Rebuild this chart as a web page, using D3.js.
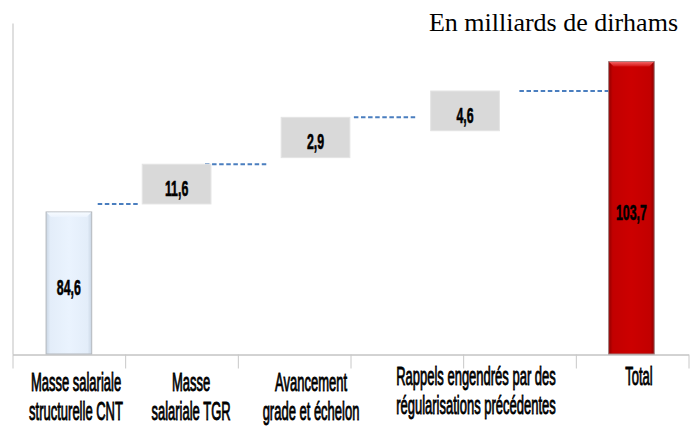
<!DOCTYPE html>
<html>
<head>
<meta charset="utf-8">
<script src="https://cdn.jsdelivr.net/npm/d3@7"></script>
<style>
  html, body { margin: 0; padding: 0; background: #ffffff; }
  svg { display: block; }
</style>
</head>
<body>
<div id="chart"></div>
<script>
// ---------------- DATA ----------------
const categories = [
  "Masse salariale structurelle CNT",
  "Masse salariale TGR",
  "Avancement grade et échelon",
  "Rappels engendrés par des régularisations précédentes",
  "Total"
];
const tickLabels = [
  ["Masse salariale", "structurelle CNT"],
  ["Masse", "salariale TGR"],
  ["Avancement", "grade et échelon"],
  ["Rappels engendrés par des", "régularisations précédentes"],
  ["Total"]
];
const values = [84.6, 11.6, 2.9, 4.6, 103.7];
const kinds = ["start", "step", "step", "step", "total"];
// The original chart is schematic (not to scale): plotted extents,
// in hidden value-axis units.
const plotLow  = [0, 54.4, 71.2, 80.95, 0];
const plotHigh = [51.5, 68.8, 85.8, 95.35, 106.0];
const unitTitle = "En milliards de dirhams";

// ---------------- LAYOUT ----------------
const W = 696, H = 427;
const plot = { left: 12, right: 688, top: 23, bottom: 354 };
const nSlots = 6;
const markSlot  = [0.505, 1.461, 2.694, 4.021, 5.498];
const labelSlot = [0.568, 1.589, 2.654, 4.118, 5.565];
const labelShift = [0, 0, 0, -6, -6];
const widthSlot = { start: 0.405, step: 0.61, total: 0.405 };
const connGap = [[6, 2], [-6, 13], [4, 13], [20, -1]];
const textSqueeze = 0.52;

const svg = d3.select("#chart").append("svg")
  .attr("width", W).attr("height", H);

const defs = svg.append("defs");
function hGrad(id, stops) {
  const g = defs.append("linearGradient").attr("id", id)
    .attr("x1", "0%").attr("x2", "100%").attr("y1", "0%").attr("y2", "0%");
  stops.forEach(s => g.append("stop").attr("offset", s[0]).attr("stop-color", s[1]));
}
function vGrad(id, stops) {
  const g = defs.append("linearGradient").attr("id", id)
    .attr("x1", "0%").attr("x2", "0%").attr("y1", "0%").attr("y2", "100%");
  stops.forEach(s => g.append("stop").attr("offset", s[0]).attr("stop-color", s[1]));
}
hGrad("blueFill", [["0%", "#c9d5e3"], ["9%", "#e3edf9"], ["50%", "#eaf3fe"], ["91%", "#e3edf9"], ["100%", "#c9d5e3"]]);
hGrad("redFill", [["0%", "#8f0000"], ["9%", "#c20000"], ["50%", "#cc0000"], ["91%", "#c20000"], ["100%", "#8f0000"]]);
vGrad("redTop", [["0%", "#f06060"], ["100%", "#d41010"]]);
vGrad("blueTop", [["0%", "#f7fbff"], ["100%", "#ebf3fd"]]);

// ---------------- SCALES ----------------
const y = d3.scaleLinear().domain([0, 120]).range([plot.bottom, plot.top]);
const xs = d3.scaleLinear().domain([0, nSlots]).range([plot.left, plot.right]);
const fmt = d3.formatLocale({ decimal: ",", thousands: " ", grouping: [3], currency: ["", ""] }).format(".1f");

// ---------------- AXES ----------------
const xAxis = d3.axisBottom(xs).tickValues(d3.range(nSlots + 1)).tickFormat("").tickSize(14).tickSizeOuter(0);
const gx = svg.append("g").attr("transform", `translate(0.5,${plot.bottom + 0.5})`).call(xAxis);
gx.select(".domain").attr("stroke", "#a6a6a6").attr("stroke-width", 1);
gx.selectAll(".tick line").attr("stroke", "#c8c8c8").attr("stroke-width", 1);

const yAxis = d3.axisLeft(y).tickValues([]).tickSizeOuter(0);
const gy = svg.append("g").attr("transform", `translate(${plot.left + 0.5},0)`).call(yAxis);
gy.select(".domain").attr("stroke", "#bfbfbf").attr("stroke-width", 1);

// ---------------- MARKS ----------------
const items = categories.map((c, i) => {
  const w = xs(widthSlot[kinds[i]]) - xs(0);
  const cx = xs(markSlot[i]);
  return { c, i, kind: kinds[i], v: values[i], x0: cx - w / 2, x1: cx + w / 2, cx,
           yTop: y(plotHigh[i]), yBot: y(plotLow[i]) };
});

// connectors
const conns = d3.range(items.length - 1).map(i => ({
  x1: items[i].x1 + connGap[i][0], x2: items[i + 1].x0 - connGap[i][1],
  level: i === 0 ? plotLow[1] : plotHigh[i]
}));
svg.append("g").selectAll("line").data(conns).join("line")
  .attr("x1", d => d.x1).attr("x2", d => d.x2)
  .attr("y1", d => y(d.level)).attr("y2", d => y(d.level))
  .attr("stroke", "#4a7ebf").attr("stroke-width", 2)
  .attr("stroke-dasharray", "4.5,2.6");

const gm = svg.append("g");
items.forEach(d => {
  const h = d.yBot - d.yTop, w = d.x1 - d.x0;
  if (d.kind === "step") {
    gm.append("rect").attr("x", d.x0).attr("y", d.yTop).attr("width", w).attr("height", h)
      .attr("fill", "#d9d9d9").attr("stroke", "#e4e4e4").attr("stroke-width", 1);
  } else {
    const isTotal = d.kind === "total";
    gm.append("rect").attr("x", d.x0).attr("y", d.yTop).attr("width", w).attr("height", h)
      .attr("fill", isTotal ? "url(#redFill)" : "url(#blueFill)")
      .attr("stroke", isTotal ? "#a08080" : "#b4b8bd").attr("stroke-width", 1);
    const b = 5;
    gm.append("path")
      .attr("d", `M${d.x0 + 0.5},${d.yTop + 0.5} L${d.x1 - 0.5},${d.yTop + 0.5} L${d.x1 - b},${d.yTop + b} L${d.x0 + b},${d.yTop + b} Z`)
      .attr("fill", isTotal ? "url(#redTop)" : "url(#blueTop)");
  }
  const mid = (d.yTop + d.yBot) / 2;
  gm.append("text")
    .attr("transform", `translate(${d.cx},${mid + 12}) scale(0.55,1)`)
    .attr("text-anchor", "middle")
    .attr("font-family", "'Liberation Sans', Arial, sans-serif")
    .attr("font-weight", "bold")
    .attr("font-size", 22.5)
    .attr("fill", "#000")
    .attr("stroke", "#000").attr("stroke-width", 0.6)
    .text(fmt(d.v));
});

// category labels
const gl = svg.append("g");
tickLabels.forEach((lines, i) => {
  lines.forEach((ln, k) => {
    gl.append("text")
      .attr("transform", `translate(${xs(labelSlot[i])},${plot.bottom + 37 + labelShift[i] + k * 29}) scale(${textSqueeze},1)`)
      .attr("text-anchor", "middle")
      .attr("font-family", "'Liberation Sans', Arial, sans-serif")
      .attr("font-size", 25)
      .attr("fill", "#000")
      .attr("stroke", "#000").attr("stroke-width", 0.9)
      .text(ln);
  });
});

// unit title
svg.append("text")
  .attr("x", 678).attr("y", 31)
  .attr("text-anchor", "end")
  .attr("font-family", "'Liberation Serif', 'Times New Roman', serif")
  .attr("font-size", 26)
  .attr("fill", "#000")
  .text(unitTitle);
</script>
</body>
</html>
